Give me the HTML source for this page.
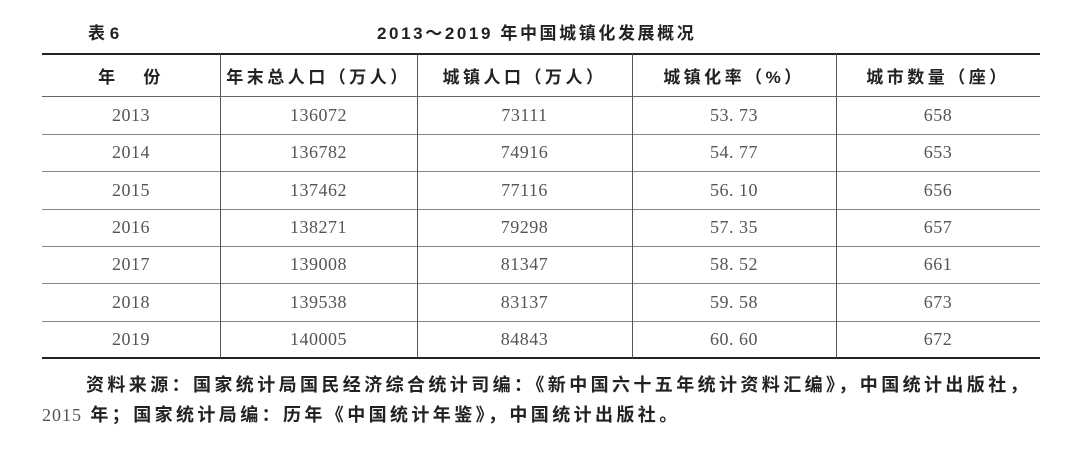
<!DOCTYPE html>
<html><head><meta charset="utf-8"><style>
body{margin:0;width:1080px;height:453px;background:#fff;position:relative;overflow:hidden;font-family:"Liberation Sans","Noto Sans CJK SC",sans-serif;color:#222}
.a{position:absolute}
.h{position:absolute;left:42px;width:998px;background:#333}
.v{position:absolute;top:54px;height:304px;width:1px;background:#555}
table{position:absolute;left:42px;top:54px;width:998px;border-collapse:collapse}
td{text-align:center;height:37.3px;padding:0;font-family:"Liberation Serif","Noto Serif CJK SC",serif;font-size:18px;color:#555;letter-spacing:0.5px}
tr.hd td{height:43px;font-family:"Liberation Sans","Noto Sans CJK SC",sans-serif;font-weight:bold;color:#222;letter-spacing:3.5px;font-size:17px}
</style></head><body>
<div class="a" style="left:88px;top:19px;font-size:17px;font-weight:bold">表 6</div>
<div class="a" style="left:377px;top:19px;font-size:17px;font-weight:bold;letter-spacing:2.6px">2013～2019 年中国城镇化发展概况</div>
<div class="h" style="top:53px;height:2px;background:#222"></div>
<div class="h" style="top:96px;height:1px;background:#666"></div>
<div class="h" style="top:134px;height:1px;background:#888"></div>
<div class="h" style="top:171px;height:1px;background:#888"></div>
<div class="h" style="top:209px;height:1px;background:#888"></div>
<div class="h" style="top:246px;height:1px;background:#888"></div>
<div class="h" style="top:283px;height:1px;background:#888"></div>
<div class="h" style="top:321px;height:1px;background:#888"></div>
<div class="h" style="top:357px;height:2px;background:#222"></div>
<div class="v" style="left:220px"></div>
<div class="v" style="left:417px"></div>
<div class="v" style="left:632px"></div>
<div class="v" style="left:836px"></div>
<table>
<colgroup><col style="width:178px"><col style="width:197px"><col style="width:215px"><col style="width:204px"><col style="width:204px"></colgroup>
<tr class="hd"><td>年&nbsp;&nbsp;&nbsp;份</td><td>年末总人口（万人）</td><td>城镇人口（万人）</td><td>城镇化率（%）</td><td>城市数量（座）</td></tr>
<tr><td>2013</td><td>136072</td><td>73111</td><td>53. 73</td><td>658</td></tr>
<tr><td>2014</td><td>136782</td><td>74916</td><td>54. 77</td><td>653</td></tr>
<tr><td>2015</td><td>137462</td><td>77116</td><td>56. 10</td><td>656</td></tr>
<tr><td>2016</td><td>138271</td><td>79298</td><td>57. 35</td><td>657</td></tr>
<tr><td>2017</td><td>139008</td><td>81347</td><td>58. 52</td><td>661</td></tr>
<tr><td>2018</td><td>139538</td><td>83137</td><td>59. 58</td><td>673</td></tr>
<tr><td>2019</td><td>140005</td><td>84843</td><td>60. 60</td><td>672</td></tr>
</table>
<div class="a" style="left:86px;top:371px;font-size:18px;font-weight:bold;letter-spacing:3.4px;white-space:nowrap">资料来源：国家统计局国民经济综合统计司编：《新中国六十五年统计资料汇编》，中国统计出版社，</div>
<div class="a" style="left:42px;top:401px;font-size:18px;font-weight:bold;letter-spacing:3.4px;white-space:nowrap"><span style="font-family:'Liberation Serif',serif;font-weight:normal;color:#555;letter-spacing:1px">2015</span> 年；国家统计局编：历年《中国统计年鉴》，中国统计出版社。</div>
</body></html>
